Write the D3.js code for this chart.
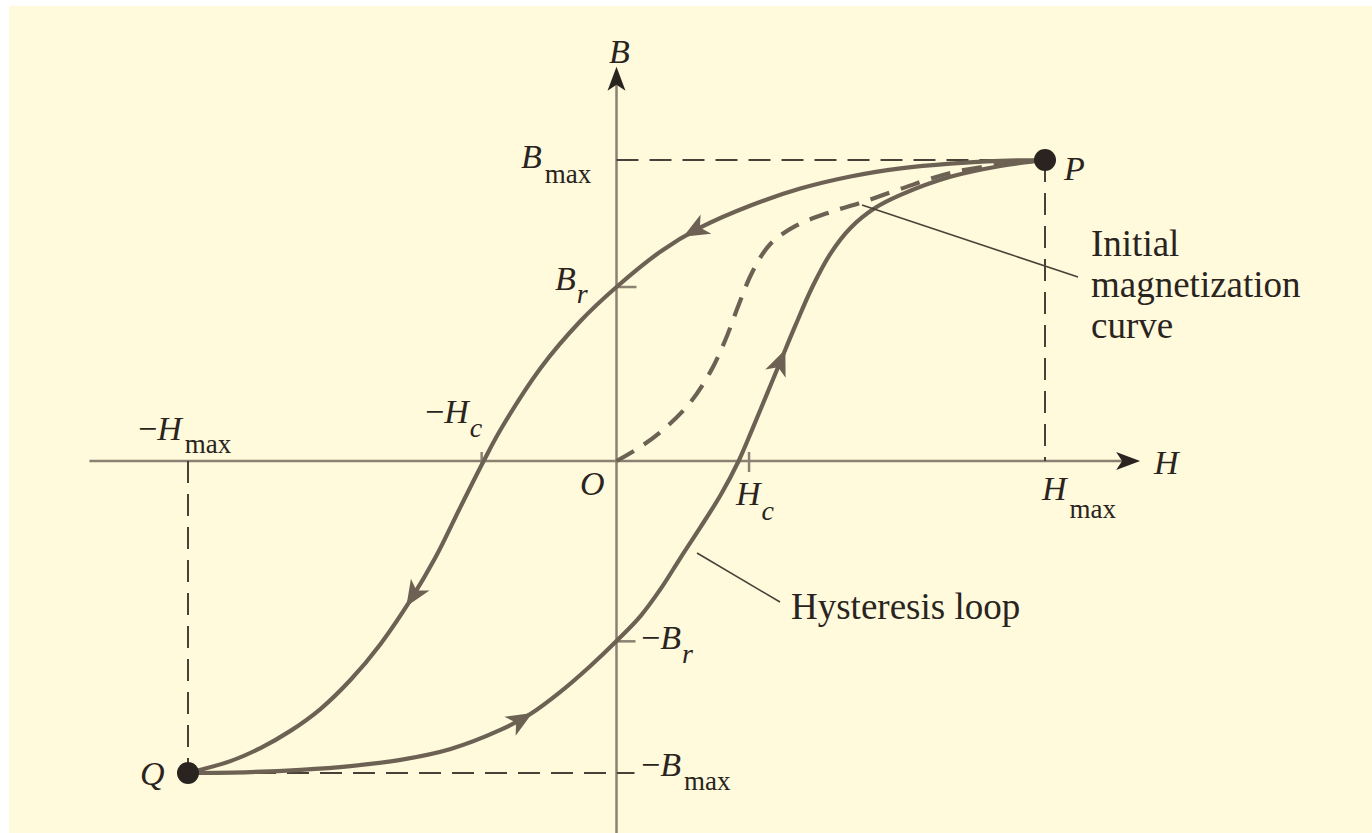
<!DOCTYPE html>
<html>
<head>
<meta charset="utf-8">
<script src="https://cdn.jsdelivr.net/npm/d3@7"></script>
<style>
  html, body { margin: 0; padding: 0; background: #ffffff; }
  svg { display: block; }
  text { font-family: 'Liberation Serif', 'Times New Roman', serif; fill: #2a2420; }
</style>
</head>
<body>
<div id="chart"></div>
<script>
// ── Data (normalised: H / Hmax, B / Bmax) ─────────────────────────────────
// Descending branch: P → Br → −Hc → Q
const DOWN_H = [1, 0.896, 0.779, 0.663, 0.546, 0.429, 0.313, 0.196, 0.103, 0, -0.084, -0.177, -0.271, -0.31, -0.364, -0.422, -0.481, -0.551, -0.621, -0.691, -0.761, -0.831, -0.901, -1];
const DOWN_B = [1, 0.997, 0.988, 0.972, 0.945, 0.905, 0.849, 0.776, 0.696, 0.578, 0.465, 0.309, 0.103, 0, -0.147, -0.308, -0.446, -0.587, -0.702, -0.795, -0.865, -0.920, -0.962, -1];

// Ascending branch: Q → −Br → Hc → P
const UP_H = [-1, -0.854, -0.737, -0.621, -0.504, -0.387, -0.271, -0.201, -0.131, -0.061, 0, 0.056, 0.103, 0.149, 0.196, 0.243, 0.285, 0.317, 0.350, 0.383, 0.418, 0.457, 0.499, 0.546, 0.604, 0.663, 0.779, 0.896, 1];
const UP_B = [-1, -0.997, -0.990, -0.978, -0.958, -0.923, -0.862, -0.811, -0.740, -0.657, -0.577, -0.497, -0.410, -0.311, -0.212, -0.109, 0, 0.106, 0.219, 0.332, 0.452, 0.578, 0.688, 0.774, 0.841, 0.884, 0.944, 0.980, 1];

// Initial magnetization curve: O → P
const INIT_H = [0, 0.056, 0.114, 0.173, 0.219, 0.254, 0.285, 0.317, 0.359, 0.418, 0.499, 0.574, 0.663, 0.779, 0.896, 1];
const INIT_B = [0, 0.047, 0.110, 0.196, 0.296, 0.402, 0.518, 0.628, 0.721, 0.781, 0.827, 0.860, 0.904, 0.957, 0.985, 1];

const BR = 0.578, HC_NEG = 0.31, HC_TICK = 0.3;

// where the direction arrows sit on each branch (by H)
const DOWN_ARROWS = [0.173, -0.48];
const UP_ARROWS   = [-0.212, 0.387];

const CURVE_COLOR = '#6d6154';
const AXIS_COLOR  = '#8c8072';
const GUIDE_COLOR = '#4a4038';
const DARK        = '#2a2420';
const BG          = '#fffadc';

const W = 1372, H = 833;

const svg = d3.select('#chart').append('svg')
  .attr('width', W).attr('height', H);

svg.append('rect')
  .attr('x', 9).attr('y', 6)
  .attr('width', W - 9).attr('height', H - 6)
  .attr('fill', BG);

// scales: −1..1 for both axes (B scale is a touch taller below zero)
const x = d3.scaleLinear().domain([-1, 1]).range([188, 1045]);
const y = d3.scaleLinear().domain([-1, 0, 1]).range([773, 461, 160]);

const toPts = (hs, bs) => hs.map((h, i) => [x(h), y(bs[i])]);
const line = d3.line().curve(d3.curveCatmullRom.alpha(0.5));

// ── Axes ──────────────────────────────────────────────────────────────────
const x0 = x(0), y0 = y(0);
const hLeft = x(-1.23), hTip = x(1.222);
const bTop = y(1.31), bBottom = 840;

svg.append('line')
  .attr('x1', hLeft).attr('y1', y0).attr('x2', hTip - 12).attr('y2', y0)
  .attr('stroke', AXIS_COLOR).attr('stroke-width', 2.5);
svg.append('line')
  .attr('x1', x0).attr('y1', bBottom).attr('x2', x0).attr('y2', bTop + 12)
  .attr('stroke', AXIS_COLOR).attr('stroke-width', 2.5);

function axisArrow(tx, ty, angle) {
  svg.append('path')
    .attr('d', 'M0,0 L-24,-9 L-18,0 L-24,9 Z')
    .attr('transform', `translate(${tx},${ty}) rotate(${angle})`)
    .attr('fill', DARK);
}
axisArrow(hTip, y0, 0);
axisArrow(x0, bTop, -90);

// ── Dashed guides ─────────────────────────────────────────────────────────
const guides = [
  [x(0), y(1), x(1), y(1)],
  [x(1), y(1), x(1), y0],
  [x(-1), y0, x(-1), y(-1)],
  [x(-1), y(-1), x0 + 18, y(-1)]
];
svg.selectAll('.guide').data(guides).join('line')
  .attr('class', 'guide')
  .attr('x1', d => d[0]).attr('y1', d => d[1])
  .attr('x2', d => d[2]).attr('y2', d => d[3])
  .attr('stroke', GUIDE_COLOR).attr('stroke-width', 2)
  .attr('stroke-dasharray', '22,11');

// small ticks at ±Br and ±Hc
const ticks = [
  [x0, y(BR), x0 + 20, y(BR)],
  [x0, y(-BR), x0 + 19, y(-BR)],
  [x(-HC_NEG) - 2, y0 - 9, x(-HC_NEG) - 2, y0 + 6],
  [x(HC_TICK) + 4, y0 - 9, x(HC_TICK) + 4, y0 + 11]
];
svg.selectAll('.tick').data(ticks).join('line')
  .attr('class', 'tick')
  .attr('x1', d => d[0]).attr('y1', d => d[1])
  .attr('x2', d => d[2]).attr('y2', d => d[3])
  .attr('stroke', AXIS_COLOR).attr('stroke-width', 2.5);

// ── Curves ────────────────────────────────────────────────────────────────
svg.append('path')
  .attr('d', line(toPts(INIT_H, INIT_B)))
  .attr('fill', 'none').attr('stroke', CURVE_COLOR)
  .attr('stroke-width', 4.2).attr('stroke-dasharray', '20,12');

const downPath = svg.append('path')
  .attr('d', line(toPts(DOWN_H, DOWN_B)))
  .attr('fill', 'none').attr('stroke', CURVE_COLOR).attr('stroke-width', 4.2);

const upPath = svg.append('path')
  .attr('d', line(toPts(UP_H, UP_B)))
  .attr('fill', 'none').attr('stroke', CURVE_COLOR).attr('stroke-width', 4.2);

// direction arrows placed along the branch at the given H
function placeArrows(pathSel, hs) {
  const node = pathSel.node();
  const total = node.getTotalLength();
  hs.forEach(h => {
    const px = x(h);
    let best = 0, bestD = Infinity;
    for (let l = 0; l <= total; l += 1) {
      const d = Math.abs(node.getPointAtLength(l).x - px);
      if (d < bestD) { bestD = d; best = l; }
    }
    const p  = node.getPointAtLength(best);
    const p2 = node.getPointAtLength(Math.min(total, best + 4));
    const p1 = node.getPointAtLength(Math.max(0, best - 4));
    const ang = Math.atan2(p2.y - p1.y, p2.x - p1.x) * 180 / Math.PI;
    svg.append('path')
      .attr('d', 'M8,0 L-18,-11 L-11,0 L-18,11 Z')
      .attr('transform', `translate(${p.x},${p.y}) rotate(${ang})`)
      .attr('fill', CURVE_COLOR);
  });
}
placeArrows(downPath, DOWN_ARROWS);
placeArrows(upPath, UP_ARROWS);

// ── Leader lines ──────────────────────────────────────────────────────────
svg.append('line')
  .attr('x1', 862).attr('y1', 205).attr('x2', 1078).attr('y2', 277)
  .attr('stroke', GUIDE_COLOR).attr('stroke-width', 1.6);
svg.append('line')
  .attr('x1', 697).attr('y1', 553).attr('x2', 780).attr('y2', 602)
  .attr('stroke', GUIDE_COLOR).attr('stroke-width', 1.6);

// ── End points P and Q ────────────────────────────────────────────────────
svg.selectAll('.endpt').data([[1, 1], [-1, -1]]).join('circle')
  .attr('class', 'endpt')
  .attr('cx', d => x(d[0])).attr('cy', d => y(d[1]))
  .attr('r', 11).attr('fill', DARK);

// ── Labels ────────────────────────────────────────────────────────────────
// [x, baseline, main, subscript, subscript dy]
const labels = [
  [609, 63, 'B', '', 0],
  [1154, 474, 'H', '', 0],
  [521, 168, 'B', 'max', 15],
  [555, 290, 'B', 'r', 13],
  [641, 649, '−B', 'r', 14],
  [641, 776, '−B', 'max', 14],
  [425, 423, '−H', 'c', 14],
  [736, 505, 'H', 'c', 15],
  [138, 440, '−H', 'max', 13],
  [1042, 500, 'H', 'max', 18],
  [580, 495, 'O', '', 0],
  [1064, 180, 'P', '', 0],
  [140, 785, 'Q', '', 0]
];

labels.forEach(([lx, ly, main, sub, sdy]) => {
  const t = svg.append('text').attr('x', lx).attr('y', ly).attr('font-size', 34);
  if (main.startsWith('−')) {
    t.append('tspan').text('−');
    t.append('tspan').attr('font-style', 'italic').text(main.slice(1));
  } else {
    t.append('tspan').attr('font-style', 'italic').text(main);
  }
  if (sub) {
    const isMax = sub === 'max';
    t.append('tspan')
      .attr('dx', isMax ? 3 : 1).attr('dy', sdy)
      .attr('font-size', isMax ? 27 : 28)
      .attr('font-style', isMax ? 'normal' : 'italic')
      .text(sub);
  }
});

const noteLines = ['Initial', 'magnetization', 'curve'];
svg.selectAll('.note').data(noteLines).join('text')
  .attr('class', 'note')
  .attr('x', 1091).attr('y', (d, i) => 256 + i * 41)
  .attr('font-size', 37)
  .text(d => d);

svg.append('text')
  .attr('x', 791).attr('y', 619)
  .attr('font-size', 37)
  .text('Hysteresis loop');
</script>
</body>
</html>
